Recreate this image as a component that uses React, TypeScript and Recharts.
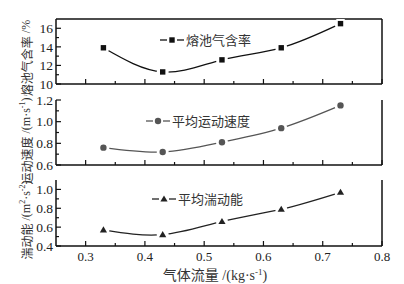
import React from 'react';
import { LineChart, Line, XAxis, YAxis, ReferenceLine, Legend } from 'recharts';

const flow = [0.33, 0.43, 0.53, 0.63, 0.73];
const gasHoldup = [13.9, 11.3, 12.6, 13.9, 16.5];
const avgVelocity = [0.76, 0.72, 0.81, 0.94, 1.15];
const turbulentKE = [0.57, 0.52, 0.66, 0.79, 0.97];

const xTicks = [0.3, 0.35, 0.4, 0.45, 0.5, 0.55, 0.6, 0.65, 0.7, 0.75, 0.8];
const holdupTicks = [10, 11, 12, 13, 14, 15, 16];
const velocityTicks = [0.6, 0.7, 0.8, 0.9, 1.0, 1.1, 1.2];
const keTicks = [0.4, 0.5, 0.6, 0.7, 0.8, 0.9, 1.0];

const SERIF = '"Liberation Serif", "Times New Roman", serif';
const CJK = '"Noto Sans CJK SC", "Liberation Serif", serif';
const AXIS = '#111';

const makeXTick = (showLabel: boolean) => (props: any) => {
  const { x, y, payload, index } = props;
  const major = index % 2 === 0;
  return (
    <g>
      <line x1={x} x2={x} y1={y} y2={y - (major ? 5 : 3)} stroke={AXIS} strokeWidth={1.2} />
      {showLabel && major && (
        <text x={x} y={y + 15} textAnchor="middle" fontFamily={SERIF} fontSize={13} fill="#222">
          {payload.value.toFixed(1)}
        </text>
      )}
    </g>
  );
};

const makeYTick = (digits: number) => (props: any) => {
  const { x, y, payload, index } = props;
  const major = index % 2 === 0;
  return (
    <g>
      <line x1={x} x2={x + (major ? 5 : 3)} y1={y} y2={y} stroke={AXIS} strokeWidth={1.2} />
      {major && (
        <text x={x - 3} y={y} dy="0.35em" textAnchor="end" fontFamily={SERIF} fontSize={13.5} fill="#222">
          {payload.value.toFixed(digits)}
        </text>
      )}
    </g>
  );
};

const Marker = ({ cx, cy, shape, color, gap = true }: any) => {
  let mark;
  if (shape === 'square') mark = <rect x={cx - 2.7} y={cy - 2.7} width={5.4} height={5.4} fill={color} />;
  else if (shape === 'circle') mark = <circle cx={cx} cy={cy} r={3.2} fill={color} />;
  else mark = <polygon points={`${cx},${cy - 3.6} ${cx + 3.6},${cy + 2.6} ${cx - 3.6},${cy + 2.6}`} fill={color} />;
  return (
    <g>
      {gap && <circle cx={cx} cy={cy} r={6} fill="#fff" />}
      {mark}
    </g>
  );
};

const LegendItem = ({ shape, color, label }: any) => (
  <div style={{ display: 'flex', alignItems: 'center' }}>
    <svg width={24} height={12}>
      <line x1={0} x2={7} y1={6} y2={6} stroke={color} strokeWidth={1.3} />
      <line x1={17} x2={24} y1={6} y2={6} stroke={color} strokeWidth={1.3} />
      <Marker cx={12} cy={6} shape={shape} color={color} gap={false} />
    </svg>
    <span style={{ fontFamily: CJK, fontSize: 13, color: '#333', marginLeft: 2, whiteSpace: 'nowrap' }}>{label}</span>
  </div>
);

type PanelProps = {
  top: number;
  height: number;
  marginTop: number;
  xHeight: number;
  values: number[];
  domain: [number, number];
  ticks: number[];
  digits: number;
  color: string;
  shape: string;
  label: string;
  legendLeft: number;
  legendTop: number;
  showXLabels?: boolean;
  boxTop?: boolean;
};

function Panel(p: PanelProps) {
  const data = flow.map((x, i) => ({ x, v: p.values[i] }));
  return (
    <div style={{ position: 'absolute', left: 0, top: p.top }}>
      <LineChart width={404} height={p.height} data={data} margin={{ top: p.marginTop, right: 22, bottom: 0, left: 0 }}>
        <XAxis
          type="number"
          dataKey="x"
          domain={[0.25, 0.8]}
          ticks={xTicks}
          interval={0}
          height={p.xHeight}
          tickSize={0}
          tickMargin={0}
          tickLine={false}
          axisLine={{ stroke: AXIS, strokeWidth: 1.5 }}
          tick={makeXTick(!!p.showXLabels)}
        />
        <YAxis
          type="number"
          domain={p.domain}
          ticks={p.ticks}
          interval={0}
          width={56}
          tickSize={0}
          tickMargin={0}
          tickLine={false}
          axisLine={{ stroke: AXIS, strokeWidth: 1.5 }}
          tick={makeYTick(p.digits)}
          allowDataOverflow
        />
        <ReferenceLine x={0.8} stroke={AXIS} strokeWidth={1.5} />
        {p.boxTop && <ReferenceLine y={p.domain[1]} stroke={AXIS} strokeWidth={1.5} />}
        <Legend
          verticalAlign="middle"
          layout="horizontal"
          wrapperStyle={{ left: p.legendLeft, top: p.legendTop, width: 'auto' }}
          content={() => <LegendItem shape={p.shape} color={p.color} label={p.label} />}
        />
        <Line
          type="natural"
          dataKey="v"
          stroke={p.color}
          strokeWidth={1.3}
          isAnimationActive={false}
          dot={(d: any) => <Marker key={d.index} cx={d.cx} cy={d.cy} shape={p.shape} color={p.color} />}
          activeDot={false}
        />
      </LineChart>
    </div>
  );
}

export default function App() {
  return (
    <div style={{ position: 'absolute', left: 0, top: 0, width: 404, height: 284, background: '#fff' }}>
      <Panel top={0} height={95} marginTop={19} xHeight={11} values={gasHoldup} domain={[10, 17]} ticks={holdupTicks}
        digits={0} color="#111" shape="square" label="熔池气含率" legendLeft={160} legendTop={30} boxTop />
      <Panel top={90} height={85} marginTop={10} xHeight={10} values={avgVelocity} domain={[0.6, 1.2]} ticks={velocityTicks}
        digits={1} color="#555" shape="circle" label="平均运动速度" legendLeft={146} legendTop={21} />
      <Panel top={170} height={114} marginTop={10} xHeight={38} values={turbulentKE} domain={[0.4, 1.1]} ticks={keTicks}
        digits={1} color="#222" shape="triangle" label="平均湍动能" legendLeft={152} legendTop={19} showXLabels />
      <svg width={404} height={284} style={{ position: 'absolute', left: 0, top: 0, pointerEvents: 'none' }}>
        <g fill="#333" fontSize={12}>
          <text transform="translate(26,58) rotate(-90)" textAnchor="middle" dominantBaseline="central">
            <tspan fontFamily={CJK}>熔池气含率</tspan>
            <tspan fontFamily={SERIF}> /%</tspan>
          </text>
          <text transform="translate(26,141) rotate(-90)" textAnchor="middle" dominantBaseline="central">
            <tspan fontFamily={CJK}>运动速度</tspan>
            <tspan fontFamily={SERIF}> /(m·s</tspan>
            <tspan fontFamily={SERIF} fontSize={8} dy={-4}>-1</tspan>
            <tspan fontFamily={SERIF} dy={4}>)</tspan>
          </text>
          <text transform="translate(26,220) rotate(-90)" textAnchor="middle" dominantBaseline="central">
            <tspan fontFamily={CJK}>湍动能</tspan>
            <tspan fontFamily={SERIF}> /(m</tspan>
            <tspan fontFamily={SERIF} fontSize={8} dy={-4}>2</tspan>
            <tspan fontFamily={SERIF} dy={4}>·s</tspan>
            <tspan fontFamily={SERIF} fontSize={8} dy={-4}>-2</tspan>
            <tspan fontFamily={SERIF} dy={4}>)</tspan>
          </text>
        </g>
        <text x={215} y={280} textAnchor="middle" fill="#333" fontSize={14}>
          <tspan fontFamily={CJK}>气体流量</tspan>
          <tspan fontFamily={SERIF}> /(kg·s</tspan>
          <tspan fontFamily={SERIF} fontSize={9} dy={-5}>-1</tspan>
          <tspan fontFamily={SERIF} dy={5}>)</tspan>
        </text>
      </svg>
    </div>
  );
}
